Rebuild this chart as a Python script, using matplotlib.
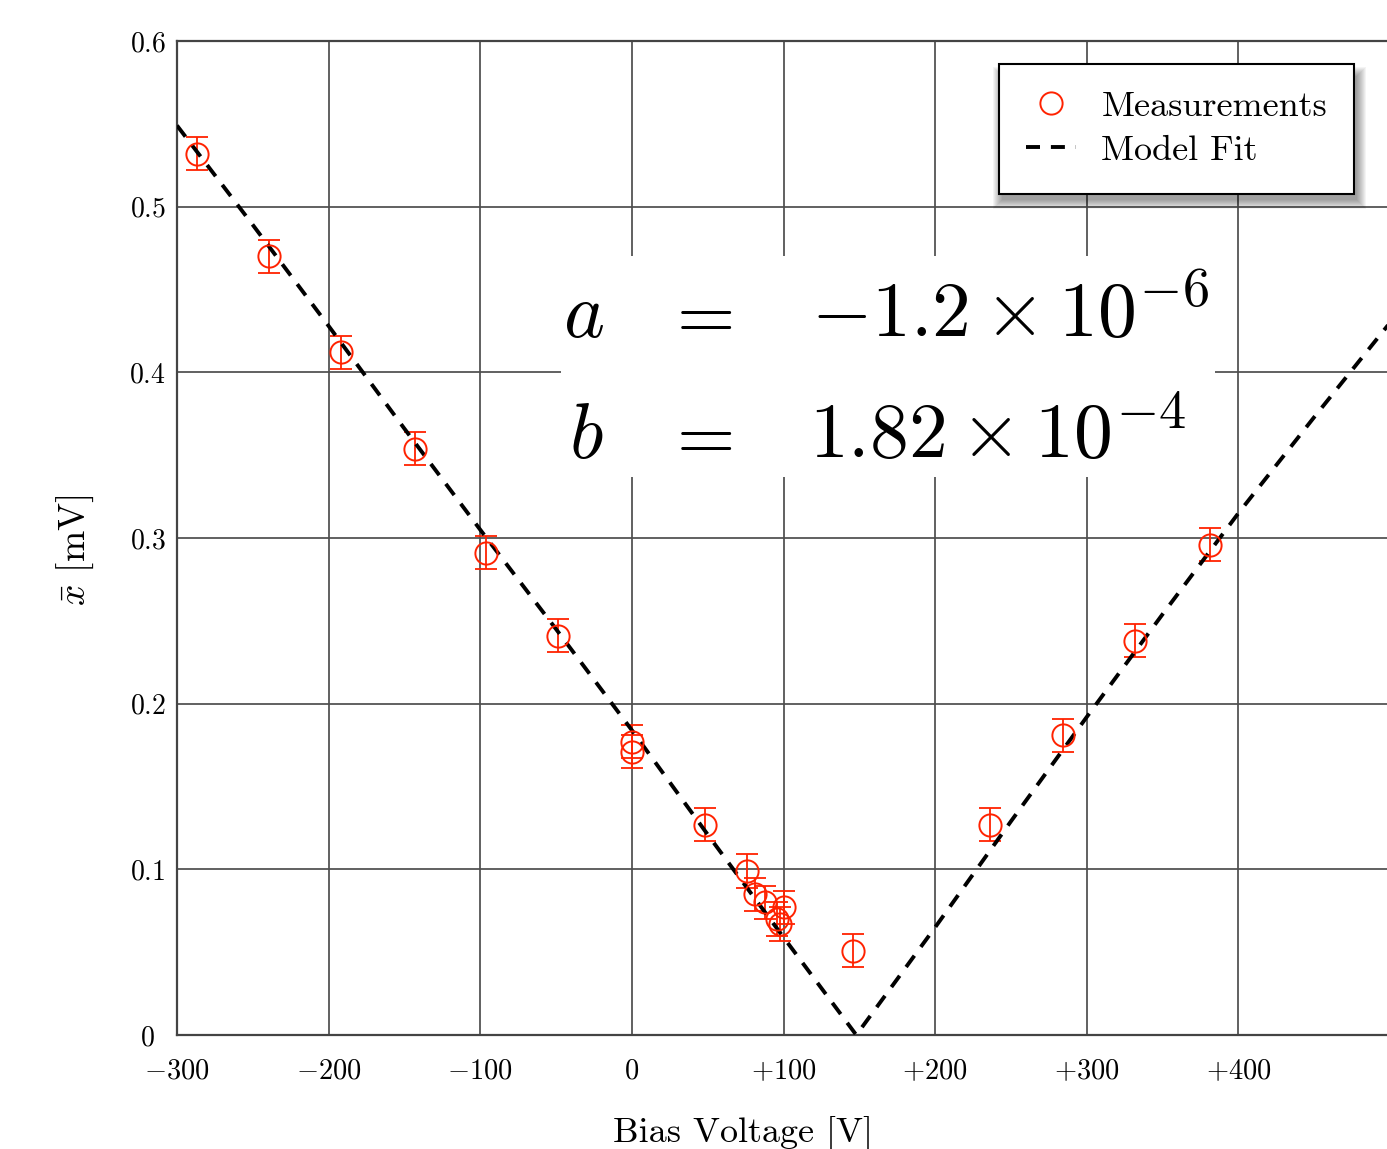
import numpy as np
import matplotlib
matplotlib.use('Agg')
import matplotlib.pyplot as plt
from matplotlib.patches import Rectangle

plt.rcParams['mathtext.fontset'] = 'cm'
plt.rcParams['font.family'] = ['cmr10', 'DejaVu Serif']
plt.rcParams['axes.formatter.use_mathtext'] = True

# measured points (bias voltage in V, mean amplitude in mV)
bias_v = [-287, -239, -192, -143, -96, -49, 0, 0, 48, 76, 81, 88, 96, 98, 100, 146, 236, 284, 332, 381]
x_mean = [0.532, 0.470, 0.412, 0.354, 0.291, 0.241, 0.177, 0.171, 0.127, 0.099, 0.085, 0.080,
          0.070, 0.067, 0.077, 0.051, 0.127, 0.181, 0.238, 0.296]
x_err = [0.01] * len(bias_v)

# model fit curve
fit_v = [-300, -250, -200, -150, -100, -50, 0, 50, 100, 148, 200, 250, 300, 350, 400, 450, 500]
fit_x = [0.549, 0.489, 0.428, 0.366, 0.305, 0.245, 0.184, 0.121, 0.059, 0.0, 0.065, 0.129,
         0.192, 0.254, 0.315, 0.373, 0.430]

x_ticks = [-300, -200, -100, 0, 100, 200, 300, 400]
x_ticklabels = ['$-300$', '$-200$', '$-100$', '$0$', '$+100$', '$+200$', '$+300$', '$+400$']
y_ticks = [0, 0.1, 0.2, 0.3, 0.4, 0.5, 0.6]
y_ticklabels = ['$0$', '$0.1$', '$0.2$', '$0.3$', '$0.4$', '$0.5$', '$0.6$']

RED = '#ff2200'

fig = plt.figure(figsize=(13.87, 11.49), dpi=100)
ax = fig.add_axes([0.1276, 0.0992, 0.8724, 0.8651])

ax.set_xlim(-300, 498)
ax.set_ylim(0, 0.6)

ax.set_axisbelow(True)
ax.grid(True, color='#4d4d4d', linewidth=1.25)
for side in ['left', 'top', 'bottom']:
    ax.spines[side].set_color('#444444')
    ax.spines[side].set_linewidth(1.6)
ax.spines['right'].set_visible(False)

ax.set_xticks(x_ticks, x_ticklabels, fontsize=20.5)
ax.set_yticks(y_ticks, y_ticklabels, fontsize=20)
ax.tick_params(axis='both', length=0)
ax.tick_params(axis='x', pad=17)
ax.tick_params(axis='y', pad=21)
for lbl in ax.get_yticklabels():
    lbl.set_horizontalalignment('center')

# white box behind the fit parameters
ax.add_patch(Rectangle((-46.8, 0.3368), 431.1, 0.1333, facecolor='white',
                       edgecolor='none', zorder=1))

ax.errorbar(bias_v, x_mean, yerr=x_err, fmt='none', ecolor=RED, elinewidth=1.3,
            capsize=8, capthick=1.3, zorder=3)
ax.plot(bias_v, x_mean, 'o', markersize=16, markerfacecolor='none', markeredgecolor=RED,
        markeredgewidth=1.4, label='Measurements', zorder=4)
ax.plot(fit_v, fit_x, color='black', linewidth=2.8, linestyle=(0, (3.6, 2.8)),
        label='Model Fit', zorder=3)

ax.text(-45.3, 0.4212, '$a$', fontsize=56, ha='left', va='baseline')
ax.text(20.3, 0.4212, '$=$', fontsize=54, ha='left', va='baseline')
ax.text(118, 0.4212, r'$-1.2\times10^{-6}$', fontsize=56, ha='left', va='baseline')
ax.text(-41.3, 0.3482, '$b$', fontsize=56, ha='left', va='baseline')
ax.text(20.3, 0.3482, '$=$', fontsize=54, ha='left', va='baseline')
ax.text(117, 0.3482, r'$1.82\times10^{-4}$', fontsize=56, ha='left', va='baseline')

leg = ax.legend(loc='upper right', bbox_to_anchor=(0.9727, 0.9769), borderaxespad=0,
                fontsize=26, fancybox=False, shadow=False,
                edgecolor='black', framealpha=1, handlelength=1.4, handletextpad=0.7,
                labelspacing=0.32, borderpad=0.74)
leg.get_frame().set_linewidth(1.5)
leg.set_zorder(10)

# soft drop shadow under the legend box
fig.canvas.draw()
bb = leg.get_frame().get_window_extent()
for k in range(10):
    ax.add_patch(Rectangle((bb.x0 + 3 - k, bb.y0 - 6 - k), bb.width + 2 * k, bb.height + 2 * k - 6,
                           transform=None, facecolor='black', edgecolor='none',
                           alpha=0.045, zorder=9))

ax.set_xlabel('Bias Voltage [V]', fontsize=26)
ax.xaxis.set_label_coords(0.468, -0.081)
ax.set_ylabel(r'$\bar{x}$ [mV]', fontsize=27)
ax.yaxis.set_label_coords(-0.067, 0.488)

plt.savefig('out.png', dpi=100)
